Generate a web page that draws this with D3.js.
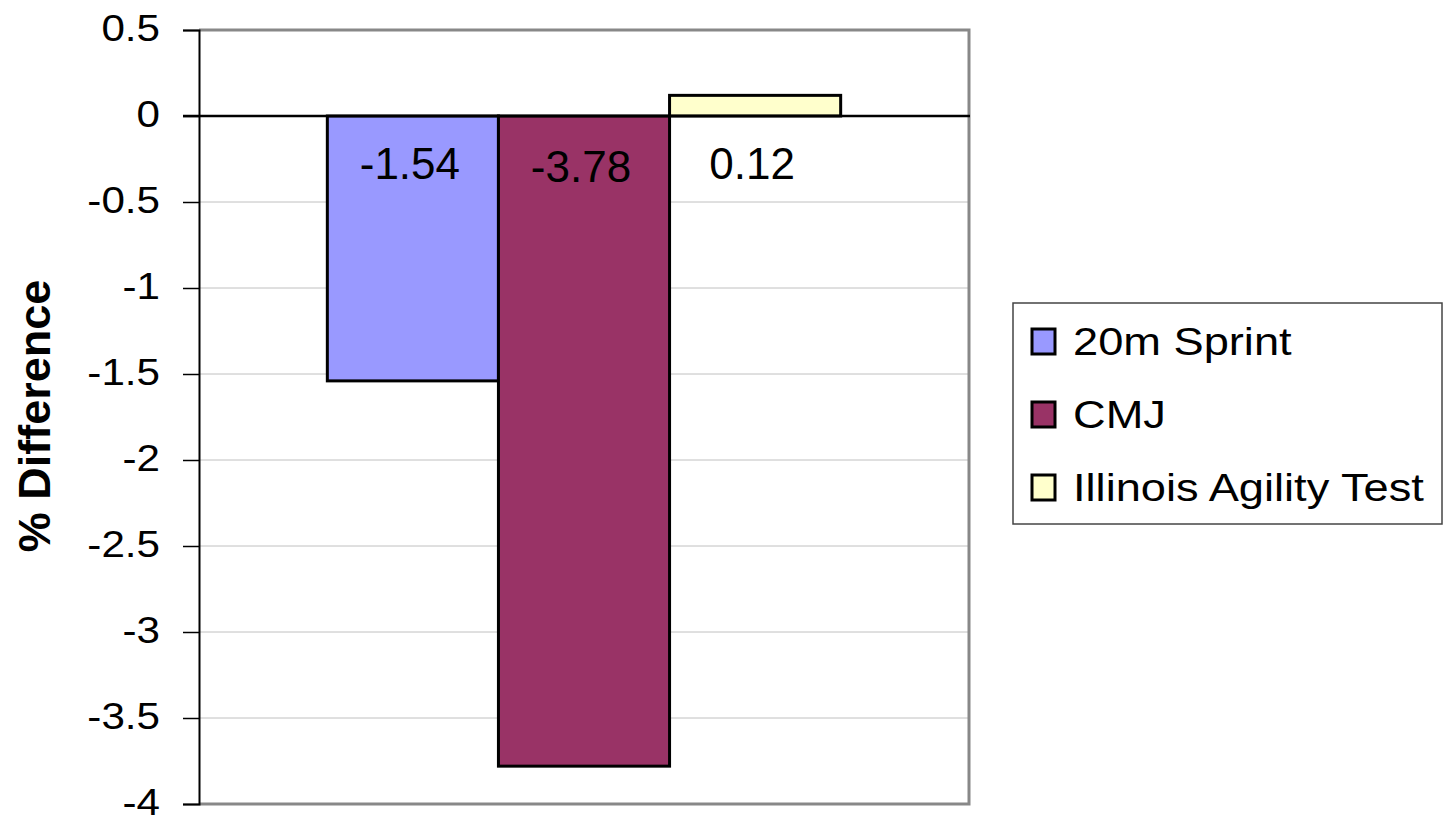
<!DOCTYPE html>
<html>
<head>
<meta charset="utf-8">
<script src="https://cdn.jsdelivr.net/npm/d3@7"></script>
<style>
  html, body { margin: 0; padding: 0; background: #fff; }
  svg { display: block; font-family: "Liberation Sans", Arial, sans-serif; }
</style>
</head>
<body>
<svg id="chart" width="1445" height="815"></svg>
<script>
// chart data
const series = ["20m Sprint", "CMJ", "Illinois Agility Test"];
const values = [-1.54, -3.78, 0.12];
const valueLabels = ["-1.54", "-3.78", "0.12"];
const yTicks = [0.5, 0, -0.5, -1, -1.5, -2, -2.5, -3, -3.5, -4];
const yTickLabels = ["0.5", "0", "-0.5", "-1", "-1.5", "-2", "-2.5", "-3", "-3.5", "-4"];
const category = ["group"];

// look
const colors = ["#9999FF", "#993366", "#FFFFCC"];
const plot = { left: 199, right: 969, top: 30, bottom: 804 };

const svg = d3.select("#chart");

// scales
const y = d3.scaleLinear()
  .domain([-4, 0.5])
  .range([plot.bottom, plot.top]);

const x0 = d3.scaleBand()
  .domain(category)
  .range([plot.left, plot.right])
  .padding(0.2);

const x1 = d3.scaleBand()
  .domain(series)
  .range([0, x0.bandwidth()])
  .padding(0);

// gridlines
svg.append("g")
  .attr("class", "grid")
  .selectAll("line")
  .data(yTicks)
  .enter()
  .append("line")
  .attr("x1", plot.left)
  .attr("x2", plot.right)
  .attr("y1", d => y(d))
  .attr("y2", d => y(d))
  .attr("stroke", "#c0c0c0")
  .attr("stroke-width", 1);

// plot border (gray top / right / bottom)
svg.append("path")
  .attr("d", `M${plot.left},${plot.top}H${plot.right}V${plot.bottom}H${plot.left}`)
  .attr("fill", "none")
  .attr("stroke", "#888")
  .attr("stroke-width", 3);

// bars
const bars = svg.append("g").attr("class", "bars");
bars.selectAll("rect")
  .data(series)
  .enter()
  .append("rect")
  .attr("x", d => x0("group") + x1(d))
  .attr("width", x1.bandwidth())
  .attr("y", (d, i) => y(Math.max(0, values[i])))
  .attr("height", (d, i) => Math.abs(y(values[i]) - y(0)))
  .attr("fill", (d, i) => colors[i])
  .attr("stroke", "#000")
  .attr("stroke-width", 3);

// zero line
svg.append("line")
  .attr("x1", plot.left - 16)
  .attr("x2", plot.right + 1)
  .attr("y1", y(0))
  .attr("y2", y(0))
  .attr("stroke", "#000")
  .attr("stroke-width", 2.5);

// y axis
const yAxis = d3.axisLeft(y)
  .tickValues(yTicks)
  .tickSize(16)
  .tickFormat((d, i) => yTickLabels[i]);

const axisG = svg.append("g")
  .attr("class", "y axis")
  .attr("transform", `translate(${plot.left},0)`)
  .call(yAxis);

axisG.select(".domain")
  .attr("stroke", "#000")
  .attr("stroke-width", 2);
axisG.selectAll(".tick line")
  .attr("stroke", "#000")
  .attr("stroke-width", 1.5);
axisG.selectAll(".tick text")
  .attr("x", 0)
  .attr("dy", "0.28em")
  .attr("transform", "translate(-39,0) scale(1.14,1)")
  .style("font-size", "37px")
  .style("font-family", "'Liberation Sans', Arial, sans-serif")
  .attr("fill", "#000");

// y axis title
svg.append("text")
  .attr("transform", "translate(50,416) rotate(-90)")
  .attr("text-anchor", "middle")
  .style("font-size", "45px")
  .style("font-weight", "bold")
  .text("% Difference");

// value labels
svg.append("g")
  .attr("class", "labels")
  .selectAll("text")
  .data(series)
  .enter()
  .append("text")
  .attr("x", d => x0("group") + x1(d) + x1.bandwidth() / 2 - 3)
  .attr("y", (d, i) => y(0) + 63 + (i === 1 ? 3 : 0))
  .attr("text-anchor", "middle")
  .style("font-size", "44px")
  .text((d, i) => valueLabels[i]);

// legend
const legend = svg.append("g")
  .attr("class", "legend")
  .attr("transform", "translate(1013,303)");

legend.append("rect")
  .attr("width", 429)
  .attr("height", 221)
  .attr("fill", "#fff")
  .attr("stroke", "#444")
  .attr("stroke-width", 1.5);

const rows = legend.selectAll(".row")
  .data(series)
  .enter()
  .append("g")
  .attr("class", "row")
  .attr("transform", (d, i) => `translate(0,${52 + i * 73})`);

rows.append("rect")
  .attr("x", 19)
  .attr("y", -26)
  .attr("width", 23)
  .attr("height", 25)
  .attr("fill", (d, i) => colors[i])
  .attr("stroke", "#000")
  .attr("stroke-width", 3);

rows.append("text")
  .attr("transform", "translate(60,0) scale(1.19,1)")
  .style("font-size", "38px")
  .text(d => d);
</script>
</body>
</html>
